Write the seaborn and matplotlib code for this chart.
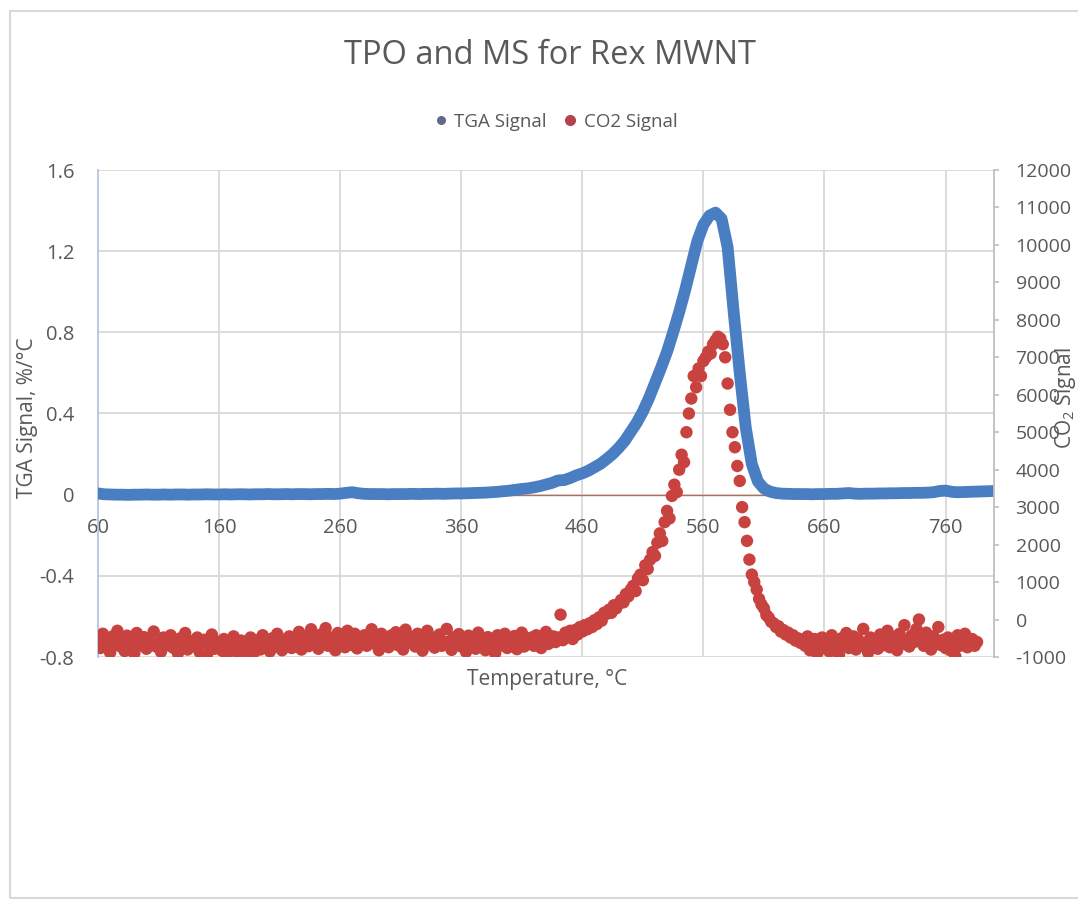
import numpy as np
import pandas as pd
import matplotlib
matplotlib.use("Agg")
import matplotlib.pyplot as plt
import matplotlib.patches as mpatches
from matplotlib.lines import Line2D
import seaborn as sns

# ---------------- data ----------------
title = "TPO and MS for Rex MWNT"
x_label = "Temperature, °C"
y1_label = "TGA Signal, %/°C"
y2_label = "CO$_2$ Signal"
series_names = ["TGA Signal", "CO2 Signal"]

x_ticks = [60, 160, 260, 360, 460, 560, 660, 760]
y1_ticks = [-0.8, -0.4, 0, 0.4, 0.8, 1.2, 1.6]
y2_ticks = [-1000, 0, 1000, 2000, 3000, 4000, 5000, 6000, 7000, 8000, 9000, 10000, 11000, 12000]

# TGA signal, sampled every 5 degC from 60 to 800
tga_temp = np.arange(60, 801, 5)
tga_signal = [
    0.006, 0.002, 0.001, 0.000, 0.000, -0.001, 0.000, 0.000, 0.001, 0.000,
    0.000, 0.001, 0.000, 0.001, 0.001, 0.000, 0.001, 0.001, 0.002, 0.001,
    0.001, 0.002, 0.001, 0.002, 0.002, 0.001, 0.002, 0.002, 0.003, 0.002,
    0.002, 0.003, 0.002, 0.003, 0.003, 0.002, 0.003, 0.003, 0.004, 0.003,
    0.005, 0.009, 0.012, 0.007, 0.004, 0.003, 0.003, 0.003, 0.002, 0.003,
    0.003, 0.003, 0.004, 0.003, 0.004, 0.004, 0.005, 0.004, 0.005, 0.006,
    0.006, 0.007, 0.008, 0.009,
    0.010, 0.012, 0.014, 0.017, 0.020, 0.024, 0.028, 0.031, 0.036, 0.042,
    0.050, 0.058, 0.070, 0.072, 0.082, 0.095, 0.105, 0.118, 0.135, 0.152,
    0.175, 0.200, 0.230, 0.265, 0.310, 0.355, 0.410, 0.475, 0.550, 0.625,
    0.705, 0.800, 0.900, 1.010, 1.130, 1.250, 1.330, 1.375, 1.390, 1.360,
    1.220, 0.900, 0.600, 0.330, 0.150, 0.065, 0.030, 0.015, 0.008, 0.005,
    0.004, 0.003, 0.003, 0.003, 0.002, 0.003, 0.003, 0.004, 0.004, 0.006,
    0.008, 0.005, 0.004, 0.005, 0.005, 0.006, 0.006, 0.007, 0.007, 0.008,
    0.008, 0.009, 0.009, 0.010, 0.012, 0.018, 0.020, 0.014, 0.012, 0.013,
    0.014, 0.015, 0.016, 0.017, 0.018,
]

# CO2 signal, sampled every 2 degC from 60 to 786
co2_temp = np.arange(60, 787, 2)
co2_signal = [
    # 60 - 438
    -520, -760, -380, -690, -560, -880, -450, -620, -300, -710,
    -580, -840, -430, -650, -520, -900, -360, -700, -600, -470,
    -780, -540, -650, -320, -720, -610, -860, -480, -560, -690,
    -420, -750, -590, -900, -500, -640, -360, -800, -570, -680,
    -720, -480, -870, -610, -540, -930, -660, -400, -780, -590,
    -650, -820, -520, -960, -600, -700, -450, -850, -630, -560,
    -880, -590, -710, -480, -920, -640, -550, -800, -420, -690,
    -600, -850, -500, -730, -380, -660, -820, -540, -700, -450,
    -760, -520, -640, -330, -800, -590, -470, -710, -260, -620,
    -540, -780, -400, -650, -230, -700, -480, -590, -820, -360,
    -620, -450, -740, -300, -560, -680, -380, -770, -510, -600,
    -420, -700, -560, -260, -640, -480, -820, -380, -600, -520,
    -740, -430, -580, -340, -690, -500, -800, -270, -620, -550,
    -460, -720, -380, -600, -830, -520, -300, -660, -480, -750,
    -560, -400, -700, -620, -250, -580, -810, -470, -650, -390,
    -720, -540, -860, -430, -610, -500, -780, -350, -680, -590,
    -820, -470, -640, -560, -900, -420, -700, -600, -380, -760,
    -530, -680, -440, -790, -600, -350, -720, -560, -640, -480,
    -700, -420, -600, -760, -500, -330, -650, -560, -450, -600,
    # 440 - 570 (rise)
    -480, 130, -550, -350, -460, -300, -520, -280, -400, -200,
    -320, -150, -260, -100, -200, -20, -120, 60, -30, 180,
    150, 260, 180, 380, 300, 420, 520, 460, 680, 620,
    800, 900, 760, 1100, 1200, 1050, 1450, 1350, 1600, 1800,
    1700, 2050, 2300, 2100, 2600, 2900, 2700, 3300, 3600, 3400,
    4000, 4400, 4200, 5000, 5500, 5900, 6500, 6200, 6700, 6500,
    6900, 7000, 7150, 7100, 7350, 7450,
    # 572 - 640 (peak and fall)
    7550, 7500, 7350, 7000, 6300, 5600, 5000, 4600, 4100, 3700,
    3000, 2600, 2100, 1600, 1200, 1000, 800, 550, 400, 300,
    120, 50, -60, -100, -200, -180, -320, -280, -400, -350,
    -480, -420, -560, -500, -620,
    # 642 - 786
    -540, -700, -450, -820, -600, -520, -900, -650, -480, -760,
    -580, -850, -420, -700, -620, -940, -500, -680, -360, -760,
    -600, -450, -800, -540, -700, -250, -620, -880, -480, -650,
    -560, -780, -400, -690, -520, -300, -740, -600, -460, -820,
    -380, -650, -150, -560, -720, -420, -600, -250, 0, -500,
    -700, -350, -580, -800, -450, -620, -200, -680, -540, -760,
    -480, -820, -600, -980, -420, -700, -560, -380, -740, -620,
    -520, -700, -600,
]

tga_df = pd.DataFrame({"Temperature": tga_temp, "TGA": tga_signal})
co2_df = pd.DataFrame({"Temperature": co2_temp, "CO2": co2_signal})

# ---------------- style ----------------
W, H, DPI = 1078, 905, 100
sns.set_theme(style="white")
plt.rcParams["font.family"] = ["Open Sans", "DejaVu Sans"]
plt.rcParams["mathtext.fontset"] = "custom"
plt.rcParams["mathtext.rm"] = "Open Sans"
plt.rcParams["mathtext.it"] = "Open Sans"

text_col = "#595959"
grid_col = "#D9D9D9"
blue = "#4A7EC2"
red = "#C8433F"

fig = plt.figure(figsize=(W / DPI, H / DPI), dpi=DPI)
fig.patch.set_facecolor("white")

# chart frame
fig.patches.append(mpatches.Rectangle((10 / W, 1 - 898 / H), 1.2, (898 - 11) / H,
                                      transform=fig.transFigure, fill=False,
                                      edgecolor="#D9D9D9", linewidth=1.5))

L, R, T, B = 98, 994, 170, 657
ax1 = fig.add_axes([L / W, 1 - B / H, (R - L) / W, (B - T) / H])
ax2 = ax1.twinx()

# TGA line (primary axis)
ax1.axhline(0, color="#B07060", linewidth=1.0, zorder=1)
sns.lineplot(data=tga_df, x="Temperature", y="TGA", ax=ax1, color=blue,
             linewidth=8.5, solid_capstyle="round", solid_joinstyle="round",
             legend=False, zorder=3)

# CO2 scatter (secondary axis)
sns.scatterplot(data=co2_df, x="Temperature", y="CO2", ax=ax2, color=red,
                s=80, edgecolor="none", linewidth=0, legend=False, zorder=4)

ax1.set_xlim(60, 800)
ax1.set_ylim(-0.8, 1.6)
ax2.set_ylim(-1000, 12000)

ax1.set_xticks(x_ticks)
ax1.set_xticklabels([str(v) for v in x_ticks])
ax1.set_yticks(y1_ticks)
ax1.set_yticklabels(["0" if v == 0 else f"{v:.1f}" for v in y1_ticks])
ax2.set_yticks(y2_ticks)
ax2.set_yticklabels([str(v) for v in y2_ticks])

ax1.grid(True, color=grid_col, linewidth=1.3)
ax1.set_axisbelow(True)
ax2.grid(False)

for sp in ["top", "bottom"]:
    ax1.spines[sp].set_visible(False)
    ax2.spines[sp].set_visible(False)
ax1.spines["right"].set_visible(False)
ax2.spines["left"].set_visible(False)
ax1.spines["left"].set_color("#B8C6DE")
ax1.spines["left"].set_linewidth(1.3)
ax2.spines["right"].set_color("#BFBFBF")
ax2.spines["right"].set_linewidth(1.3)

# x tick labels sit at the y = 0 crossing, like Excel
ax1.spines["bottom"].set_position(("data", 0))

ax1.tick_params(axis="x", length=0, pad=17, labelsize=14.5, labelcolor=text_col)
ax1.tick_params(axis="y", length=0, pad=17, labelsize=14.5, labelcolor=text_col)
ax2.tick_params(axis="y", length=3.5, width=1.2, color="#BFBFBF", pad=12,
                labelsize=14, labelcolor=text_col)
ax1.set_xlabel("")
ax1.set_ylabel("")
ax2.set_ylabel("")

fig.text(0.5075, 1 - 680 / H, x_label, ha="center", va="center",
         fontsize=15, color=text_col)
fig.text(28 / W, 1 - 418 / H, y1_label, ha="center", va="center",
         rotation=90, fontsize=15, color=text_col)
fig.text(1065 / W, 1 - 398 / H, y2_label, ha="center", va="center",
         rotation=90, fontsize=15, color=text_col)

fig.text(550 / W, 1 - 55 / H, title, ha="center", va="center",
         fontsize=23.5, color=text_col)

handles = [
    Line2D([], [], linestyle="none", marker="o", markersize=6.5,
           markerfacecolor="#5E6A86", markeredgecolor="none"),
    Line2D([], [], linestyle="none", marker="o", markersize=8,
           markerfacecolor="#B2434F", markeredgecolor="none"),
]
leg = fig.legend(handles, series_names, loc="center", ncol=2,
                 bbox_to_anchor=(556 / W, 1 - 122 / H), frameon=False,
                 fontsize=13.5, handlelength=0.7, handletextpad=0.35,
                 columnspacing=0.9)
for t in leg.get_texts():
    t.set_color(text_col)

fig.savefig("out.png", dpi=DPI, facecolor="white")
